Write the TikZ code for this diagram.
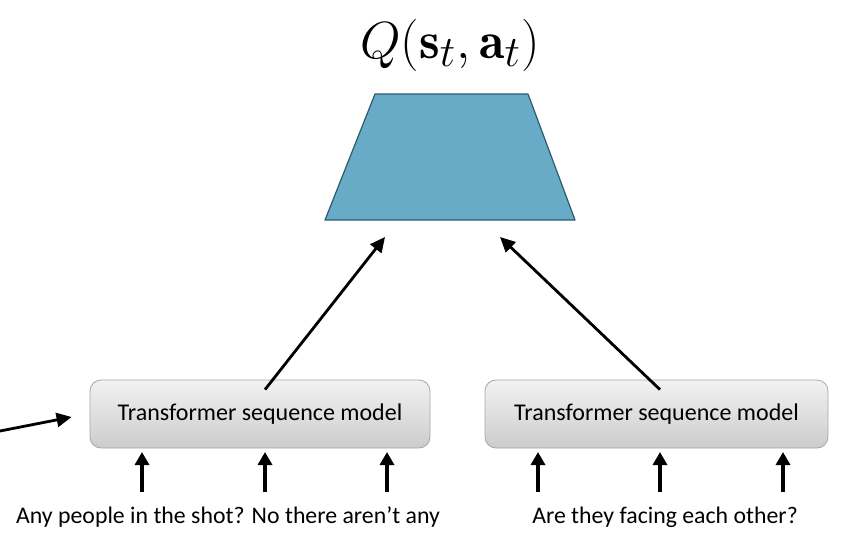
\documentclass[tikz,border=0pt]{standalone}
\usepackage{amsmath}
\usepackage{fontspec}
\newfontfamily\calibri{Carlito}
\usetikzlibrary{arrows.meta,positioning}

\definecolor{headfill}{HTML}{67ABC6}
\definecolor{headline}{HTML}{2E5A6B}
\definecolor{boxline}{HTML}{A6A6A6}

\begin{document}
\begin{tikzpicture}[x=1pt,y=-1pt,
  >={Triangle[length=15pt,width=14pt]},
  qhead/.style={fill=headfill,draw=headline,line width=1.2pt,line join=round},
  tsm/.style={rounded corners=11pt,minimum width=340pt,minimum height=68pt,
    top color=gray!10,bottom color=gray!40,draw=boxline,line width=0.8pt,
    font=\calibri\fontsize{24}{28}\selectfont},
  words/.style={font=\calibri\fontsize{23.8}{28}\selectfont},
  feed/.style={->,line width=2.8pt},
  tok/.style={-{Triangle[length=13pt,width=14pt]},line width=3.8pt}]
\useasboundingbox (0,0) rectangle (858,538);

% value head
\draw[qhead] (325,220) -- (375,94) -- (528,94) -- (575,220) -- cycle;
\coordinate (qin) at (450,220);
\node[scale=2.1] (qlabel) at (450,45) {\Huge$Q(\mathbf{s}_t,\mathbf{a}_t)$};

% the two sequence models
\node[tsm] (lbox) at (260,414) {Transformer sequence model};
\node[tsm,minimum width=343pt] (rbox) at (656.5,414) {Transformer sequence model};

% utterances
\node[words] (lwords) at (228,517) {Any people in the shot? No there aren’t any};
\node[words] (rwords) at (665,517) {Are they facing each other?};

% into the head
\draw[feed] ([xshift=5pt,yshift=-10pt]lbox.north) -- ([xshift=-65pt,yshift=-17pt]qin);
\draw[feed] ([xshift=3.5pt,yshift=-10pt]rbox.north) -- ([xshift=50pt,yshift=-17pt]qin);

% incoming from the left
\coordinate (prev) at (0,431);
\draw[feed] (prev) -- ([xshift=-18pt,yshift=-3pt]lbox.west);

% tokens
\foreach \x in {142,265,387}
  \draw[tok] (\x,492) -- (\x,452);
\foreach \x in {538,660,783}
  \draw[tok] (\x,492) -- (\x,452);
\end{tikzpicture}
\end{document}
